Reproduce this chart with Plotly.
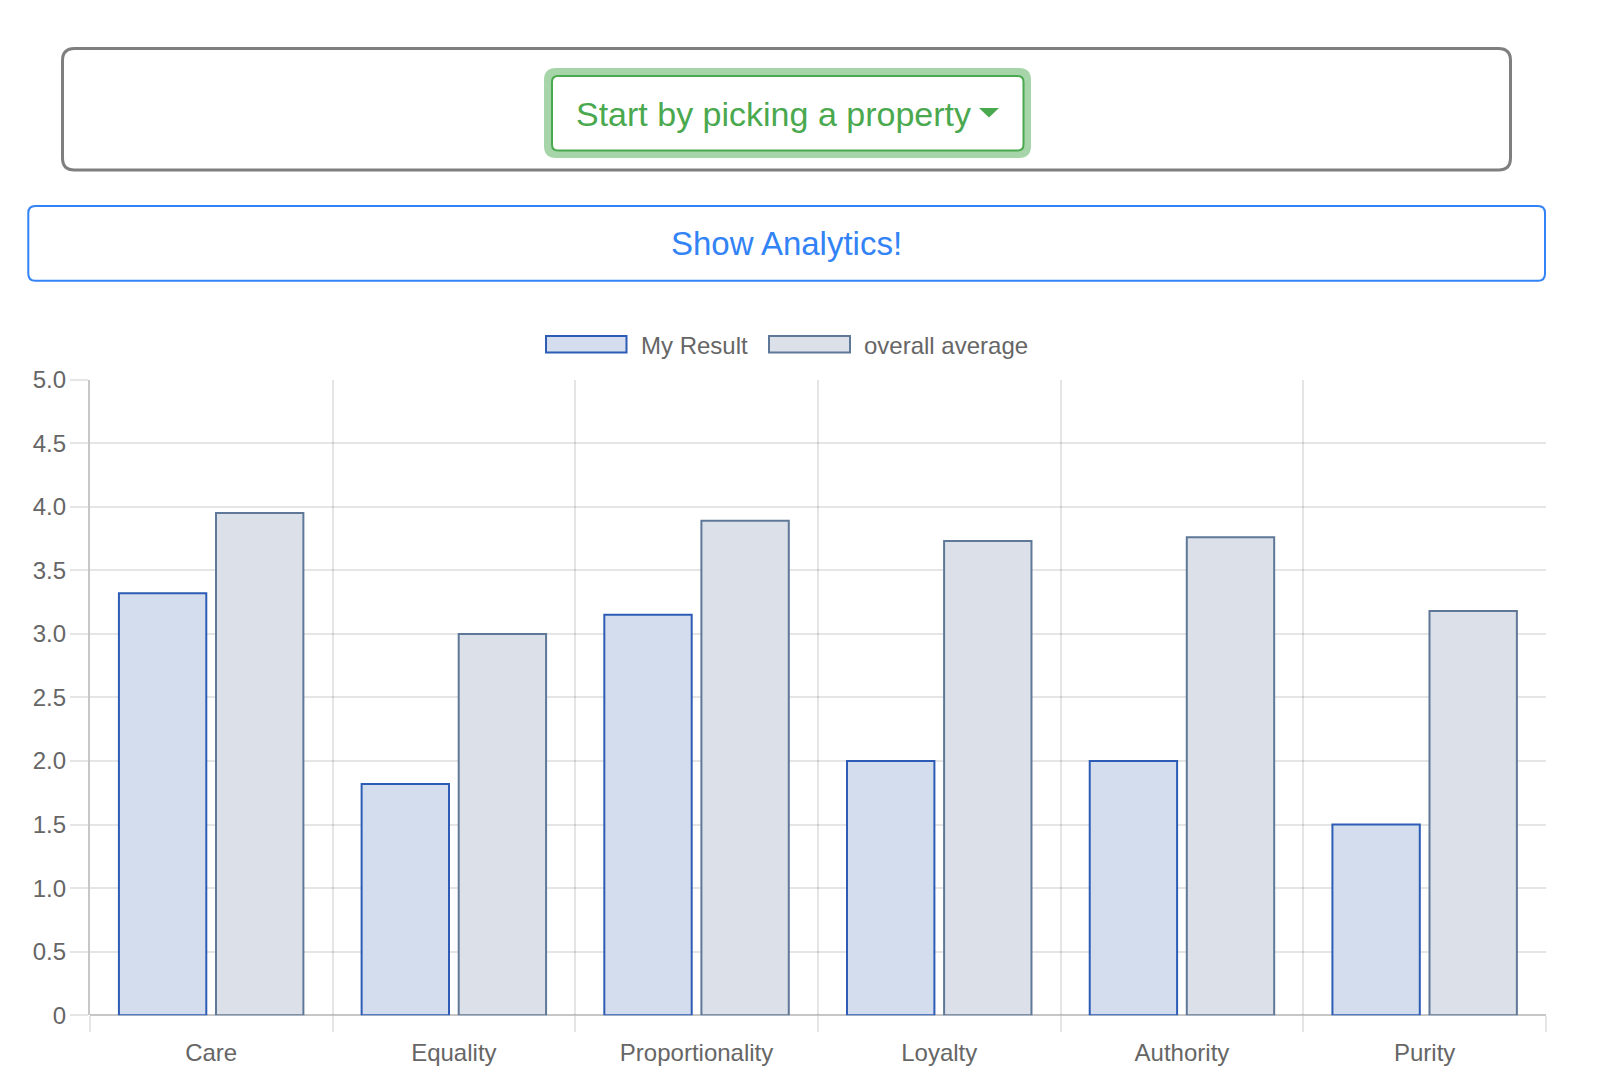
import plotly.graph_objects as go

# ---------------- data ----------------
categories = ["Care", "Equality", "Proportionality", "Loyalty", "Authority", "Purity"]
my_result = [3.32, 1.82, 3.15, 2.0, 2.0, 1.5]
overall_average = [3.95, 3.0, 3.89, 3.73, 3.76, 3.18]
series_names = ["My Result", "overall average"]
y_tick_values = [0, 0.5, 1.0, 1.5, 2.0, 2.5, 3.0, 3.5, 4.0, 4.5, 5.0]
y_tick_labels = ["0", "0.5", "1.0", "1.5", "2.0", "2.5", "3.0", "3.5", "4.0", "4.5", "5.0"]

# ---------------- layout helpers (pixel -> paper) ----------------
W, H = 1600, 1088


def px(x):
    return x / W


def py(y):
    return 1 - y / H


def rrect(x0, y0, x1, y1, r):
    rx, ry = r / W, r / H
    X0, X1 = px(x0), px(x1)
    Y0, Y1 = py(y0), py(y1)  # Y0 top (larger), Y1 bottom
    return (f"M {X0+rx},{Y0} L {X1-rx},{Y0} Q {X1},{Y0} {X1},{Y0-ry} "
            f"L {X1},{Y1+ry} Q {X1},{Y1} {X1-rx},{Y1} L {X0+rx},{Y1} "
            f"Q {X0},{Y1} {X0},{Y1+ry} L {X0},{Y0-ry} Q {X0},{Y0} {X0+rx},{Y0} Z")


FONT = "Liberation Sans, Arial, Helvetica, sans-serif"
GRID = "rgba(0,0,0,0.1)"
MY_FILL, MY_LINE = "#d3ddee", "#2c5cb5"
AV_FILL, AV_LINE = "#dce1e9", "#5f7898"
GREEN, GREEN_GLOW = "#4aa84e", "#a5d5a8"
BLUE = "#3283f5"

fig = go.Figure()
fig.add_trace(go.Bar(x=categories, y=my_result, name=series_names[0],
                     marker=dict(color=MY_FILL, line=dict(color=MY_LINE, width=2)),
                     showlegend=False))
fig.add_trace(go.Bar(x=categories, y=overall_average, name=series_names[1],
                     marker=dict(color=AV_FILL, line=dict(color=AV_LINE, width=2)),
                     showlegend=False))

shapes = [
    # outer grey panel
    dict(type="path", xref="paper", yref="paper", path=rrect(62.5, 48.5, 1510.5, 170, 12),
         line=dict(color="#7f7f7f", width=3), fillcolor="rgba(0,0,0,0)", layer="above"),
    # green button glow
    dict(type="path", xref="paper", yref="paper", path=rrect(544, 68, 1031, 158, 12),
         line=dict(width=0), fillcolor=GREEN_GLOW, layer="above"),
    # green button body
    dict(type="path", xref="paper", yref="paper", path=rrect(552, 76, 1023.5, 150.5, 6),
         line=dict(color=GREEN, width=2), fillcolor="white", layer="above"),
    # caret
    dict(type="path", xref="paper", yref="paper",
         path=f"M {px(979)},{py(108)} L {px(999)},{py(108)} L {px(989)},{py(117.5)} Z",
         line=dict(width=0), fillcolor=GREEN, layer="above"),
    # blue button
    dict(type="path", xref="paper", yref="paper", path=rrect(28.3, 206, 1545, 280.7, 7),
         line=dict(color=BLUE, width=2), fillcolor="rgba(0,0,0,0)", layer="above"),
    # legend boxes
    dict(type="rect", xref="paper", yref="paper", x0=px(546), x1=px(626.5), y0=py(336), y1=py(352.5),
         line=dict(color=MY_LINE, width=2), fillcolor=MY_FILL, layer="above"),
    dict(type="rect", xref="paper", yref="paper", x0=px(769), x1=px(850), y0=py(336), y1=py(352.5),
         line=dict(color=AV_LINE, width=2), fillcolor=AV_FILL, layer="above"),
]

annotations = [
    dict(xref="paper", yref="paper", x=px(574), y=py(114), xanchor="left", yanchor="middle",
         text="Start by picking a property", showarrow=False,
         font=dict(family=FONT, size=34, color=GREEN)),
    dict(xref="paper", yref="paper", x=px(786.7), y=py(243.5), xanchor="center", yanchor="middle",
         text="Show Analytics!", showarrow=False,
         font=dict(family=FONT, size=33, color=BLUE)),
    dict(xref="paper", yref="paper", x=px(639), y=py(345.8), xanchor="left", yanchor="middle",
         text=series_names[0], showarrow=False,
         font=dict(family=FONT, size=24, color="#666666")),
    dict(xref="paper", yref="paper", x=px(861.5), y=py(345.8), xanchor="left", yanchor="middle",
         text=series_names[1], showarrow=False,
         font=dict(family=FONT, size=24, color="#666666")),
]

fig.update_layout(
    width=W, height=H,
    margin=dict(l=0, r=0, t=0, b=0, pad=0),
    paper_bgcolor="white", plot_bgcolor="white",
    barmode="group", bargap=0.2, bargroupgap=0.1,
    font=dict(family=FONT, size=24, color="#666666"),
    shapes=shapes, annotations=annotations,
    xaxis=dict(domain=[px(89.8), px(1546)], type="category",
               tickson="boundaries", showgrid=True, gridcolor=GRID, gridwidth=2,
               ticks="outside", ticklen=16, tickwidth=2, tickcolor=GRID,
               showline=False, zeroline=False, automargin=False,
               tickfont=dict(family=FONT, size=24, color="#666666"),
               ticklabelstandoff=21),
    yaxis=dict(domain=[py(1015.3), py(379.6)], range=[0, 5],
               tickvals=y_tick_values, ticktext=y_tick_labels,
               showgrid=True, gridcolor=GRID, gridwidth=2,
               ticks="outside", ticklen=18, tickwidth=2, tickcolor=GRID,
               showline=True, linecolor="rgba(0,0,0,0.22)", linewidth=2,
               zeroline=True, zerolinecolor="rgba(0,0,0,0.22)", zerolinewidth=2,
               automargin=False,
               tickfont=dict(family=FONT, size=24, color="#666666"),
               ticklabelstandoff=-1),
)

fig.write_html("out.html")
